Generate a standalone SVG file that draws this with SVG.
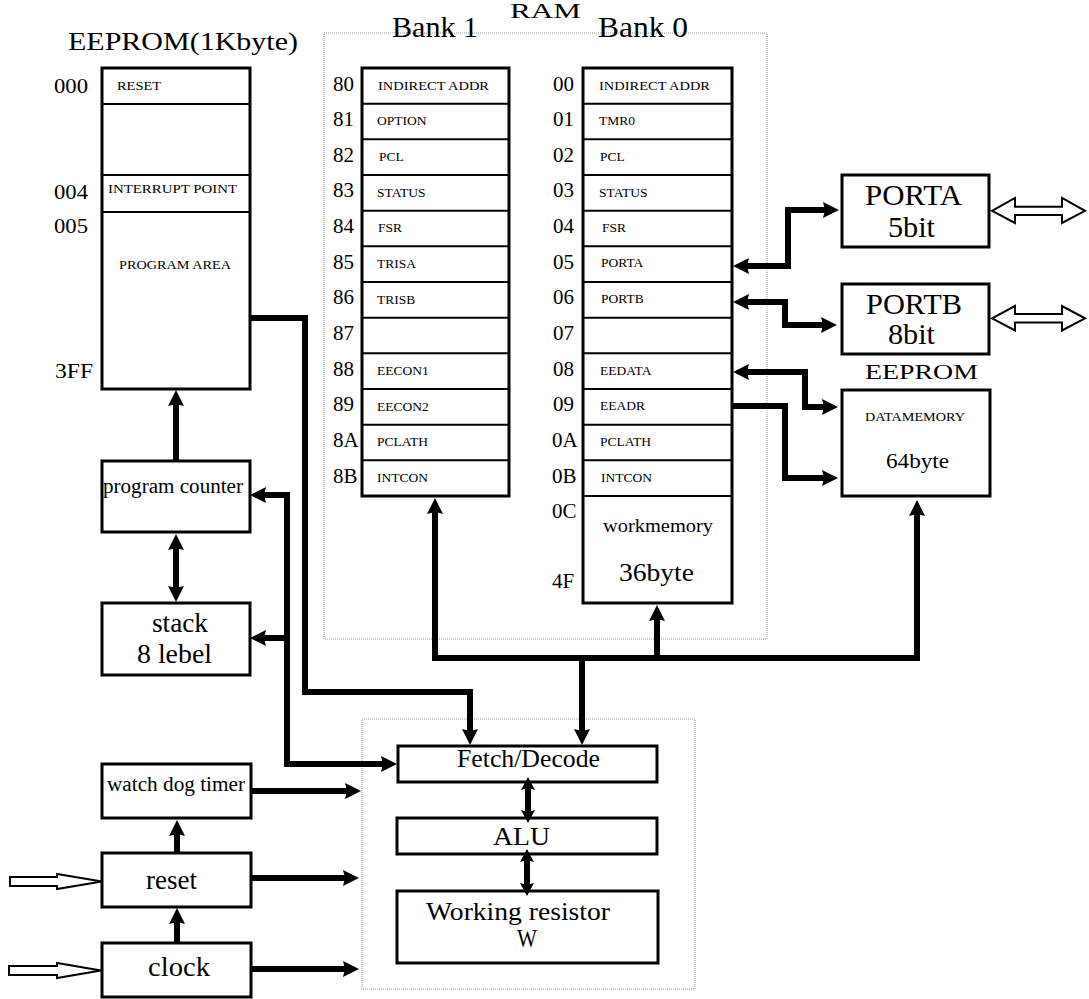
<svg xmlns="http://www.w3.org/2000/svg" width="1089" height="999" viewBox="0 0 1089 999">
  <style>
    .box { fill: #fff; stroke: #000; stroke-width: 3; }
    .row { stroke: #000; stroke-width: 2; }
    .dot { fill: none; stroke: #999; stroke-width: 1; stroke-dasharray: 1 1; }
    .wire { fill: none; stroke: #000; stroke-width: 6; stroke-linejoin: miter; }
    .hollow { fill: #fff; stroke: #000; stroke-width: 2; stroke-linejoin: miter; }
    text { font-family: "Liberation Serif", "Times New Roman", serif; fill: #000; }
    .reg { font-size: 13.5px; }
    .addr { font-size: 21px; }
    .mid { font-size: 20px; }
    .big { font-size: 27px; }
    .one { marker-end: url(#head); }
    .two { marker-start: url(#head); marker-end: url(#head); }
    .pair { marker-start: url(#small); marker-end: url(#small); }
  </style>
  <defs>
    <marker id="head" viewBox="0 0 16 16" markerWidth="16" markerHeight="16" refX="6" refY="8" orient="auto-start-reverse" markerUnits="userSpaceOnUse">
      <path d="M0,0 L16,8 L0,16 L2,8 Z" fill="#000"/>
    </marker>
    <marker id="small" viewBox="0 0 13 14" markerWidth="13" markerHeight="14" refX="4" refY="7" orient="auto-start-reverse" markerUnits="userSpaceOnUse">
      <path d="M0,0 L13,7 L0,14 L2,7 Z" fill="#000"/>
    </marker>
  </defs>

  <!-- program memory -->
  <g id="eeprom-program">
    <text x="68" y="50" font-size="26" textLength="230" lengthAdjust="spacingAndGlyphs">EEPROM(1Kbyte)</text>
    <rect class="box" x="102" y="68" width="148" height="321"/>
    <line class="row" x1="102" y1="104" x2="250" y2="104"/>
    <line class="row" x1="102" y1="175" x2="250" y2="175"/>
    <line class="row" x1="102" y1="212" x2="250" y2="212"/>
    <text class="reg" x="117" y="90" textLength="44" lengthAdjust="spacingAndGlyphs">RESET</text>
    <text class="reg" x="108" y="193" textLength="129" lengthAdjust="spacingAndGlyphs">INTERRUPT POINT</text>
    <text class="reg" x="119" y="269" textLength="112" lengthAdjust="spacingAndGlyphs">PROGRAM AREA</text>
    <text class="addr" x="54" y="93" textLength="34" lengthAdjust="spacingAndGlyphs">000</text>
    <text class="addr" x="54" y="199" textLength="34" lengthAdjust="spacingAndGlyphs">004</text>
    <text class="addr" x="54" y="233" textLength="34" lengthAdjust="spacingAndGlyphs">005</text>
    <text class="addr" x="55" y="378" textLength="38" lengthAdjust="spacingAndGlyphs">3FF</text>
  </g>

  <!-- data RAM frame -->
  <g id="ram">
    <rect class="dot" x="324" y="33" width="443" height="606"/>
    <text x="510" y="18" font-size="22" textLength="71" lengthAdjust="spacingAndGlyphs">RAM</text>
    <text x="392" y="37" font-size="30" textLength="86" lengthAdjust="spacingAndGlyphs">Bank 1</text>
    <text x="598" y="37" font-size="30" textLength="90" lengthAdjust="spacingAndGlyphs">Bank 0</text>
  </g>

  <g id="bank1">
    <rect class="box" x="362" y="68" width="147" height="428"/>
    <g class="row">
      <line x1="362" y1="103.7" x2="509" y2="103.7"/>
      <line x1="362" y1="139.3" x2="509" y2="139.3"/>
      <line x1="362" y1="175" x2="509" y2="175"/>
      <line x1="362" y1="210.7" x2="509" y2="210.7"/>
      <line x1="362" y1="246.3" x2="509" y2="246.3"/>
      <line x1="362" y1="282" x2="509" y2="282"/>
      <line x1="362" y1="317.7" x2="509" y2="317.7"/>
      <line x1="362" y1="353.3" x2="509" y2="353.3"/>
      <line x1="362" y1="389" x2="509" y2="389"/>
      <line x1="362" y1="424.7" x2="509" y2="424.7"/>
      <line x1="362" y1="460.3" x2="509" y2="460.3"/>
    </g>
    <g class="addr">
      <text x="333" y="91">80</text>
      <text x="333" y="126">81</text>
      <text x="333" y="162">82</text>
      <text x="333" y="197">83</text>
      <text x="333" y="233">84</text>
      <text x="333" y="269">85</text>
      <text x="333" y="304">86</text>
      <text x="333" y="340">87</text>
      <text x="333" y="376">88</text>
      <text x="333" y="411">89</text>
      <text x="333" y="447">8A</text>
      <text x="333" y="483">8B</text>
    </g>
    <g class="reg">
      <text x="378" y="90" textLength="111" lengthAdjust="spacingAndGlyphs">INDIRECT ADDR</text>
      <text x="377" y="125">OPTION</text>
      <text x="379" y="161">PCL</text>
      <text x="377" y="197">STATUS</text>
      <text x="378" y="232">FSR</text>
      <text x="377" y="268">TRISA</text>
      <text x="377" y="304">TRISB</text>
      <text x="377" y="375">EECON1</text>
      <text x="377" y="411">EECON2</text>
      <text x="377" y="446">PCLATH</text>
      <text x="377" y="482">INTCON</text>
    </g>
  </g>

  <g id="bank0">
    <rect class="box" x="583" y="68" width="149" height="535"/>
    <g class="row">
      <line x1="583" y1="103.7" x2="732" y2="103.7"/>
      <line x1="583" y1="139.3" x2="732" y2="139.3"/>
      <line x1="583" y1="175" x2="732" y2="175"/>
      <line x1="583" y1="210.7" x2="732" y2="210.7"/>
      <line x1="583" y1="246.3" x2="732" y2="246.3"/>
      <line x1="583" y1="282" x2="732" y2="282"/>
      <line x1="583" y1="317.7" x2="732" y2="317.7"/>
      <line x1="583" y1="353.3" x2="732" y2="353.3"/>
      <line x1="583" y1="389" x2="732" y2="389"/>
      <line x1="583" y1="424.7" x2="732" y2="424.7"/>
      <line x1="583" y1="460.3" x2="732" y2="460.3"/>
      <line x1="583" y1="496" x2="732" y2="496"/>
    </g>
    <g class="addr">
      <text x="553" y="91">00</text>
      <text x="553" y="126">01</text>
      <text x="553" y="162">02</text>
      <text x="553" y="197">03</text>
      <text x="553" y="233">04</text>
      <text x="553" y="269">05</text>
      <text x="553" y="304">06</text>
      <text x="553" y="340">07</text>
      <text x="553" y="376">08</text>
      <text x="553" y="411">09</text>
      <text x="552" y="447">0A</text>
      <text x="552" y="483">0B</text>
      <text x="552" y="518">0C</text>
      <text x="552" y="588">4F</text>
    </g>
    <g class="reg">
      <text x="599" y="90" textLength="111" lengthAdjust="spacingAndGlyphs">INDIRECT ADDR</text>
      <text x="599" y="125">TMR0</text>
      <text x="600" y="161">PCL</text>
      <text x="599" y="197">STATUS</text>
      <text x="602" y="232">FSR</text>
      <text x="601" y="267">PORTA</text>
      <text x="601" y="303">PORTB</text>
      <text x="600" y="375">EEDATA</text>
      <text x="600" y="410">EEADR</text>
      <text x="600" y="446">PCLATH</text>
      <text x="601" y="482">INTCON</text>
    </g>
    <text x="603" y="532" font-size="19" textLength="110" lengthAdjust="spacingAndGlyphs">workmemory</text>
    <text x="619" y="581" font-size="25" textLength="75" lengthAdjust="spacingAndGlyphs">36byte</text>
  </g>

  <g id="porta">
    <rect class="box" x="842" y="175" width="147" height="72"/>
    <text x="865" y="205" font-size="29" textLength="97" lengthAdjust="spacingAndGlyphs">PORTA</text>
    <text x="888" y="237" font-size="29" textLength="47" lengthAdjust="spacingAndGlyphs">5bit</text>
    <polygon class="hollow" points="992,210.8 1015,198 1015,206.7 1062,206.7 1062,198 1085,210.8 1062,223 1062,215 1015,215 1015,223"/>
  </g>

  <g id="portb">
    <rect class="box" x="842" y="284" width="147" height="70"/>
    <text x="866" y="314" font-size="29" textLength="96" lengthAdjust="spacingAndGlyphs">PORTB</text>
    <text x="888" y="344" font-size="29" textLength="47" lengthAdjust="spacingAndGlyphs">8bit</text>
    <polygon class="hollow" points="992,318.3 1015,306 1015,314 1062,314 1062,306 1085,318.3 1062,330.5 1062,322.5 1015,322.5 1015,330.5"/>
  </g>

  <g id="eeprom-data">
    <text x="865" y="379" font-size="22" textLength="113" lengthAdjust="spacingAndGlyphs">EEPROM</text>
    <rect class="box" x="842" y="390" width="148" height="106"/>
    <text x="865" y="421" font-size="13.5" textLength="100" lengthAdjust="spacingAndGlyphs">DATAMEMORY</text>
    <text x="886" y="468" font-size="22" textLength="63" lengthAdjust="spacingAndGlyphs">64byte</text>
  </g>

  <g id="program-counter">
    <rect class="box" x="102" y="461" width="148" height="71"/>
    <text class="mid" x="103" y="493" textLength="140" lengthAdjust="spacingAndGlyphs">program counter</text>
  </g>

  <g id="stack">
    <rect class="box" x="102" y="603" width="148" height="72"/>
    <text class="big" x="152" y="632" textLength="56" lengthAdjust="spacingAndGlyphs">stack</text>
    <text class="big" x="137" y="663" textLength="75" lengthAdjust="spacingAndGlyphs">8 lebel</text>
  </g>

  <g id="watchdog">
    <rect class="box" x="102" y="764" width="149" height="54"/>
    <text class="mid" x="107" y="791" textLength="138" lengthAdjust="spacingAndGlyphs">watch dog timer</text>
  </g>

  <g id="reset">
    <rect class="box" x="102" y="853" width="149" height="54"/>
    <text class="big" x="146" y="889" textLength="51" lengthAdjust="spacingAndGlyphs">reset</text>
    <polygon class="hollow" points="10,877 57,877 57,874 102,881.5 57,889 57,886 10,886"/>
  </g>

  <g id="clock">
    <rect class="box" x="102" y="943" width="149" height="54"/>
    <text class="big" x="148" y="976" textLength="62" lengthAdjust="spacingAndGlyphs">clock</text>
    <polygon class="hollow" points="9,966 57,966 57,963 101,970.5 57,978 57,975 9,975"/>
  </g>

  <!-- processor core -->
  <g id="cpu">
    <rect class="dot" x="362" y="719" width="333" height="270"/>
  </g>

  <g id="fetch-decode">
    <rect class="box" x="398" y="746" width="259" height="36"/>
    <text x="457" y="767" font-size="25" textLength="143" lengthAdjust="spacingAndGlyphs">Fetch/Decode</text>
  </g>

  <g id="alu">
    <rect class="box" x="397" y="818" width="260" height="36"/>
    <text x="493" y="845" font-size="25" textLength="57" lengthAdjust="spacingAndGlyphs">ALU</text>
  </g>

  <g id="working-register">
    <rect class="box" x="397" y="891" width="261" height="72"/>
    <text x="426" y="920" font-size="25" textLength="184" lengthAdjust="spacingAndGlyphs">Working resistor</text>
    <text x="517" y="947" font-size="25" textLength="20" lengthAdjust="spacingAndGlyphs">W</text>
  </g>

  <!-- buses and signal lines -->
  <g id="connectors" class="wire">
    <path class="one" d="M250,318 H305 V692 H470 V735"/>
    <path class="two" d="M260,495 H287 V764 H387"/>
    <path class="one" d="M287,638 H260"/>
    <path class="two" d="M435,508 V658 H917 V510"/>
    <path class="one" d="M657,658 V615"/>
    <path class="one" d="M582,658 V735"/>
    <path class="two" d="M743,266 H788 V210 H829"/>
    <path class="two" d="M743,302 H785 V325 H827"/>
    <path class="two" d="M743,372 H805 V407 H828"/>
    <path class="one" d="M733,406 H785 V478 H828"/>
    <path class="one" d="M176,461 V400"/>
    <path class="two" d="M176,544 V592"/>
    <path class="one" d="M177,853 V830"/>
    <path class="one" d="M177,943 V918"/>
    <path class="one" d="M251,791 H351"/>
    <path class="one" d="M251,878 H349"/>
    <path class="one" d="M251,969 H349"/>
    <path class="pair" d="M528,786 V814"/>
    <path class="pair" d="M527,858 V887"/>
  </g>
</svg>
